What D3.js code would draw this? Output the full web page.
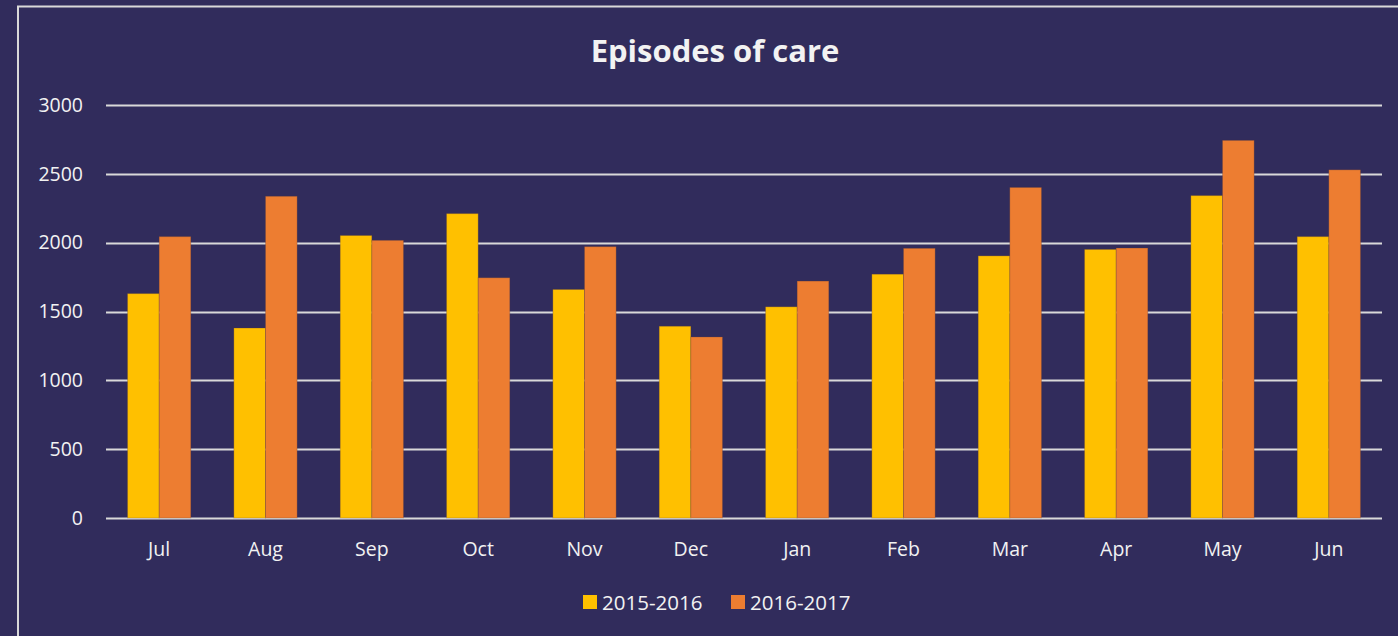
<!DOCTYPE html>
<html>
<head>
<meta charset="utf-8">
<script src="https://cdnjs.cloudflare.com/ajax/libs/d3/7.8.5/d3.min.js"></script>
<style>
  html, body { margin: 0; padding: 0; background: #312c5c; overflow: hidden; }
  text { font-family: "Open Sans", "Liberation Sans", sans-serif; fill: #f2f2f2; }
</style>
</head>
<body>
<script>
const width = 1398,
      height = 636;

// data
const months = ["Jul", "Aug", "Sep", "Oct", "Nov", "Dec", "Jan", "Feb", "Mar", "Apr", "May", "Jun"];
const seriesNames = ["2015-2016", "2016-2017"];
const values2015 = [1630, 1380, 2052, 2211, 1660, 1393, 1534, 1771, 1904, 1951, 2342, 2044];
const values2016 = [2044, 2337, 2017, 1745, 1971, 1315, 1721, 1959, 2401, 1961, 2743, 2529];
const yTicks = [0, 500, 1000, 1500, 2000, 2500, 3000];
const colors = ["#ffc000", "#ed7d31"];

const margin = {top: 105, right: 16, bottom: 118, left: 106};

const svg = d3.select("body")
    .append("svg")
    .attr("width", width)
    .attr("height", height);

// chart border (runs off the right and bottom edge)
svg.append("rect")
    .attr("x", 18)
    .attr("y", 6.5)
    .attr("width", width)
    .attr("height", height)
    .attr("fill", "none")
    .attr("stroke", "#d9d9d9")
    .attr("stroke-width", 2);

const x = d3.scaleBand()
    .domain(months)
    .range([margin.left, width - margin.right])
    .paddingInner(0.405)
    .paddingOuter(0.2025);

const x1 = d3.scaleBand()
    .domain(seriesNames)
    .range([0, x.bandwidth()]);

const y = d3.scaleLinear()
    .domain([0, 3000])
    .range([height - margin.bottom, margin.top]);

// gridlines
svg.append("g")
    .selectAll("line")
    .data(yTicks)
    .enter().append("line")
    .attr("x1", margin.left)
    .attr("x2", width - margin.right)
    .attr("y1", d => Math.round(y(d)) + 0.5)
    .attr("y2", d => Math.round(y(d)) + 0.5)
    .attr("stroke", "#d9d9d9")
    .attr("stroke-width", 2);

const rows = months.map((m, i) => ({month: m, vals: [values2015[i], values2016[i]]}));

const groups = svg.append("g")
    .selectAll("g")
    .data(rows)
    .enter().append("g")
    .attr("transform", d => `translate(${x(d.month)},0)`);

groups.selectAll("rect")
    .data(d => d.vals.map((v, j) => ({name: seriesNames[j], value: v, j: j})))
    .enter().append("rect")
    .attr("x", d => x1(d.name))
    .attr("width", x1.bandwidth())
    .attr("y", d => y(d.value))
    .attr("height", d => y(0) - y(d.value))
    .attr("fill", d => colors[d.j])
    .attr("stroke", "rgba(90,60,60,0.25)")
    .attr("stroke-width", 1);

// y axis labels
svg.append("g")
    .attr("transform", `translate(${margin.left - 23},0)`)
    .call(d3.axisLeft(y).tickValues(yTicks).tickFormat(d3.format("d")).tickSize(0).tickPadding(0))
    .call(g => g.select(".domain").remove())
    .selectAll("text")
    .attr("font-size", 19.5)
    .attr("fill", "#f2f2f2");

// x axis labels
svg.append("g")
    .attr("transform", `translate(0,${height - margin.bottom})`)
    .call(d3.axisBottom(x).tickSize(0).tickPadding(24))
    .call(g => g.select(".domain").remove())
    .selectAll("text")
    .attr("font-size", 19.5)
    .attr("fill", "#f2f2f2");

// title
svg.append("text")
    .attr("x", 715)
    .attr("y", 62)
    .attr("text-anchor", "middle")
    .attr("font-size", 31)
    .attr("font-weight", "bold")
    .attr("fill", "#ffffff")
    .text("Episodes of care");

// legend
const legend = svg.append("g")
    .selectAll("g")
    .data(seriesNames)
    .enter().append("g")
    .attr("transform", (d, i) => `translate(${583 + i * 148},595)`);

legend.append("rect")
    .attr("width", 14)
    .attr("height", 14)
    .attr("fill", (d, i) => colors[i]);

legend.append("text")
    .attr("x", 19)
    .attr("y", 14.5)
    .attr("font-size", 20.5)
    .text(d => d);
</script>
</body>
</html>
